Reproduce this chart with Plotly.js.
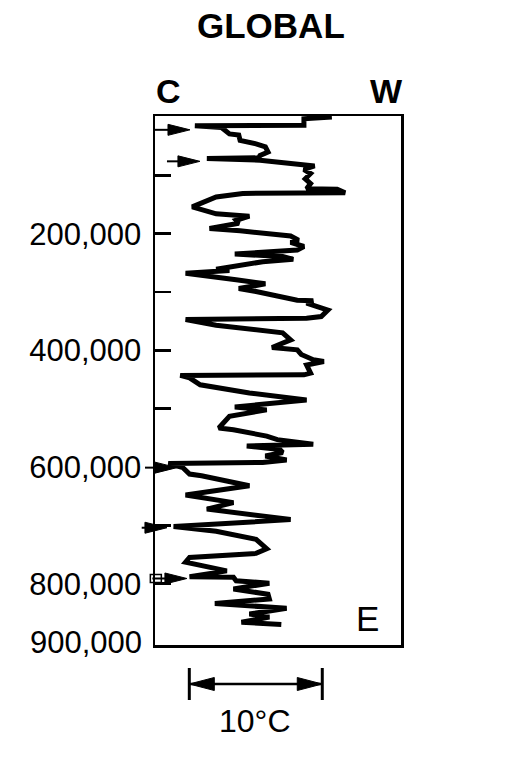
<!DOCTYPE html>
<html>
<head>
<meta charset="utf-8">
<script src="https://cdn.plot.ly/plotly-3.0.1.min.js"></script>
<style>html,body{margin:0;padding:0;background:#fff;}#chart{width:514px;height:762px;}</style>
</head>
<body>
<div id="chart"></div>
<script>
// Age before present (years), top = present
const ageYears = [0, 3000, 14000, 15000, 18000, 29000, 31000, 40000, 46000, 51000,
  60000, 66000, 70000, 71000, 74000, 82000, 84000, 90000, 97000, 106000,
  114000, 123000, 124000, 130000, 131000, 137000, 154000, 166000, 170000, 177000,
  182000, 191000, 195000, 204000, 211000, 215000, 222000, 228000, 235000, 239000,
  244000, 248000, 257000, 261000, 263000, 268000, 279000, 286000, 294000, 299000,
  314000, 315000, 319000, 331000, 342000, 345000, 347000, 357000, 370000, 382000,
  395000, 399000, 407000, 416000, 419000, 425000, 439000, 442000, 443000, 447000,
  459000, 473000, 485000, 497000, 502000, 513000, 533000, 536000, 547000, 553000,
  561000, 564000, 570000, 575000, 581000, 588000, 592000, 594000, 601000, 612000,
  615000, 632000, 648000, 661000, 672000, 690000, 702000, 710000, 724000, 735000,
  740000, 748000, 755000, 763000, 778000, 788000, 789000, 795000, 799000, 809000,
  818000, 826000, 834000, 842000, 852000, 857000, 866000, 870000];
// Relative temperature (°C), cold (C) left, warm (W) right
const tempC = [13.3, 11.2, 11.2, 3.0, 5.0, 5.6, 6.3, 6.4, 7.6, 8.3,
  8.5, 7.9, 7.8, 3.9, 7.9, 10.9, 12.0, 11.2, 11.7, 11.3,
  11.7, 11.4, 13.7, 14.3, 6.6, 4.6, 2.8, 4.6, 7.1, 6.1,
  6.3, 4.1, 6.4, 10.2, 10.8, 10.2, 11.2, 10.7, 6.0, 9.6,
  10.4, 8.1, 5.9, 4.6, 5.6, 2.3, 6.1, 8.3, 6.3, 7.6,
  10.7, 11.9, 11.4, 13.0, 12.5, 11.4, 2.3, 4.6, 9.6, 10.2,
  8.8, 10.7, 11.0, 11.9, 12.7, 11.4, 11.7, 11.2, 1.9, 2.6,
  3.4, 7.1, 11.4, 6.0, 8.4, 5.6, 4.8, 5.9, 8.4, 9.2,
  11.9, 6.9, 9.4, 9.6, 8.3, 9.9, 8.1, 1.0, 2.1, 2.6,
  3.5, 7.1, 2.3, 5.9, 3.9, 10.2, 1.4, 4.6, 7.6, 8.1,
  8.4, 7.6, 2.6, 2.3, 5.4, 2.6, 5.9, 6.1, 8.6, 5.9,
  8.5, 8.6, 4.5, 9.9, 7.1, 8.6, 6.5, 9.5];

const tickVals = [100000, 200000, 300000, 400000, 500000, 600000, 700000, 800000];
const tickText = ['', '200,000', '', '400,000', '', '600,000', '', '800,000'];
const extraLabelAge = 900000, extraLabelText = '900,000';

// Cold-stage arrows (age, arrow tip temp, arrow tail temp)
const arrowAges = [22000, 76000, 601000, 704000, 791000];
const arrowTips = [2.63, 3.38, 1.65, 0.9, 2.4];
const arrowTails = [0, 0.9, -0.75, -1.0, -0.2];

// Scale bar
const scaleStart = 2.58, scaleSpan = 10, scaleLabel = '10°C';

const title = 'GLOBAL', coldLabel = 'C', warmLabel = 'W', panelLabel = 'E';

const xRange = [0, 18.5];
const yRange = [905000, -1700];
const W = 514, H = 762;
const M = {l: 155, r: 113, t: 116, b: 117};
const plotW = W - M.l - M.r, plotH = H - M.t - M.b;
function px(t) { return (t - xRange[0]) / (xRange[1] - xRange[0]); }
function py(a) { return (a - yRange[0]) / (yRange[1] - yRange[0]); }
const FONT = 'Liberation Sans, Arial, Helvetica, sans-serif';

const shapes = [];
const annotations = [];

// arrows
const headLenPx = 22, headHalfPx = 5.5;
for (let i = 0; i < arrowAges.length; i++) {
  const xt = px(arrowTips[i]), xs = px(arrowTails[i]), yy = py(arrowAges[i]);
  const hl = headLenPx / plotW, hh = headHalfPx / plotH;
  shapes.push({type: 'line', xref: 'paper', yref: 'paper', x0: xs, x1: xt - hl * 0.8, y0: yy, y1: yy,
    line: {color: '#000', width: 2}});
  shapes.push({type: 'path', xref: 'paper', yref: 'paper',
    path: `M ${xt},${yy} L ${xt - hl},${yy + hh} L ${xt - hl},${yy - hh} Z`,
    fillcolor: '#000', line: {color: '#000', width: 1}});
}
// small open box tail on the last arrow
{
  const i = arrowAges.length - 1;
  const yy = py(arrowAges[i]);
  shapes.push({type: 'rect', xref: 'paper', yref: 'paper',
    x0: px(arrowTails[i]) - 2 / plotW, x1: px(arrowTails[i]) + 9 / plotW,
    y0: yy - 4 / plotH, y1: yy + 4 / plotH, line: {color: '#000', width: 1.5}, fillcolor: 'rgba(0,0,0,0)'});
}

// scale bar
{
  const yb = -39 / plotH, capH = 16 / plotH;
  const x0 = px(scaleStart), x1 = px(scaleStart + scaleSpan);
  const hl = 25 / plotW, hh = 6.5 / plotH;
  shapes.push({type: 'line', xref: 'paper', yref: 'paper', x0: x0, x1: x1, y0: yb, y1: yb, line: {color: '#000', width: 2.5}});
  shapes.push({type: 'line', xref: 'paper', yref: 'paper', x0: x0, x1: x0, y0: yb - capH, y1: yb + capH, line: {color: '#000', width: 3}});
  shapes.push({type: 'line', xref: 'paper', yref: 'paper', x0: x1, x1: x1, y0: yb - capH, y1: yb + capH, line: {color: '#000', width: 3}});
  shapes.push({type: 'path', xref: 'paper', yref: 'paper', path: `M ${x0},${yb} L ${x0 + hl},${yb + hh} L ${x0 + hl},${yb - hh} Z`, fillcolor: '#000', line: {color: '#000', width: 1}});
  shapes.push({type: 'path', xref: 'paper', yref: 'paper', path: `M ${x1},${yb} L ${x1 - hl},${yb + hh} L ${x1 - hl},${yb - hh} Z`, fillcolor: '#000', line: {color: '#000', width: 1}});
  annotations.push({xref: 'paper', yref: 'paper', x: (x0 + x1) / 2 - 0.005, y: -75.5 / plotH, text: scaleLabel, showarrow: false,
    xanchor: 'center', yanchor: 'middle', font: {family: FONT, size: 32, color: '#000'}});
}

annotations.push({xref: 'paper', yref: 'paper', x: 0.4715, y: 1.172, text: '<b>' + title + '</b>', showarrow: false,
  xanchor: 'center', yanchor: 'middle', font: {family: FONT, size: 35, color: '#000'}});
annotations.push({xref: 'paper', yref: 'paper', x: 0.053, y: 1.047, text: '<b>' + coldLabel + '</b>', showarrow: false,
  xanchor: 'center', yanchor: 'middle', font: {family: FONT, size: 34, color: '#000'}});
annotations.push({xref: 'paper', yref: 'paper', x: 0.942, y: 1.047, text: '<b>' + warmLabel + '</b>', showarrow: false,
  xanchor: 'center', yanchor: 'middle', font: {family: FONT, size: 34, color: '#000'}});
annotations.push({xref: 'paper', yref: 'paper', x: 0.862, y: 0.050, text: panelLabel, showarrow: false,
  xanchor: 'center', yanchor: 'middle', font: {family: FONT, size: 35, color: '#000'}});
annotations.push({xref: 'paper', yref: 'y', x: 0, y: extraLabelAge, text: extraLabelText, showarrow: false,
  xanchor: 'right', yanchor: 'middle', xshift: -11, font: {family: FONT, size: 31, color: '#000'}});

const trace = {
  x: tempC, y: ageYears, type: 'scatter', mode: 'lines',
  line: {color: '#000', width: 5, shape: 'linear'},
  hoverinfo: 'skip', cliponaxis: true
};

const layout = {
  width: W, height: H,
  margin: M,
  paper_bgcolor: '#fff', plot_bgcolor: '#fff',
  showlegend: false,
  xaxis: {range: xRange, showline: true, mirror: true, linecolor: '#000', linewidth: 2.5,
    showticklabels: false, ticks: '', showgrid: false, zeroline: false, fixedrange: true},
  yaxis: {range: yRange, showline: true, mirror: true, linecolor: '#000', linewidth: 2.5,
    ticks: 'inside', ticklen: 16, tickwidth: 2.5, tickcolor: '#000',
    tickvals: tickVals, ticktext: tickText, ticklabelstandoff: 5,
    tickfont: {family: FONT, size: 31, color: '#000'},
    showgrid: false, zeroline: false, fixedrange: true},
  shapes: shapes,
  annotations: annotations
};

Plotly.newPlot('chart', [trace], layout, {displayModeBar: false, staticPlot: true});
</script>
</body>
</html>
